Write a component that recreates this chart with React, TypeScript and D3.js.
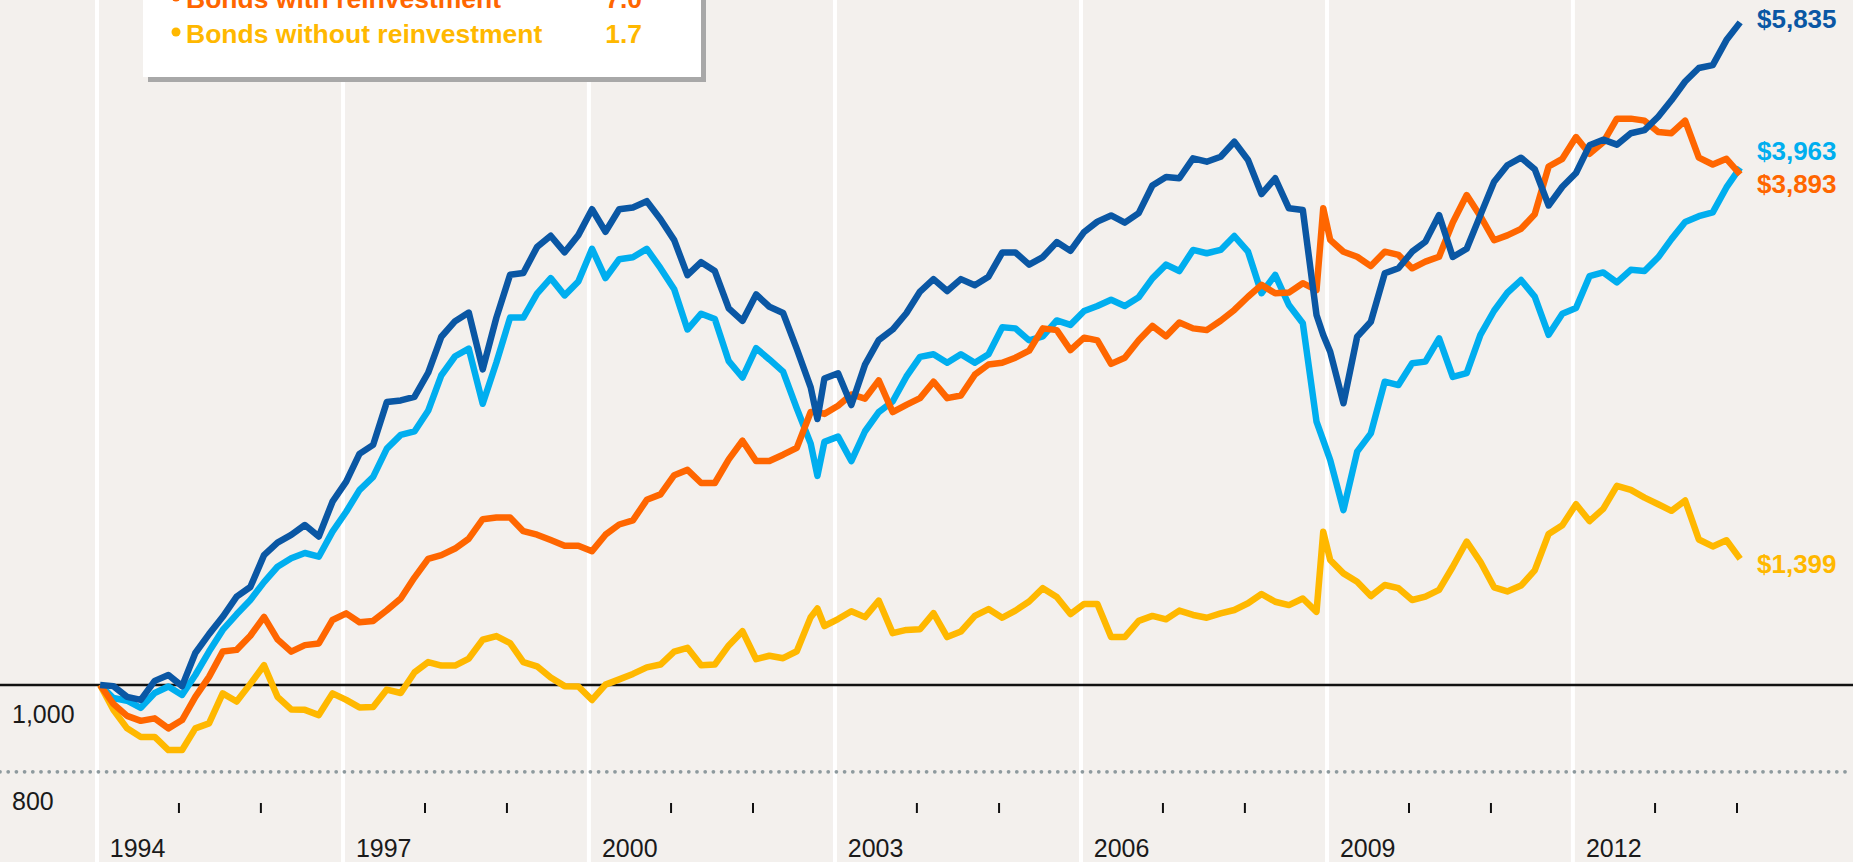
import * as d3 from 'd3';
import React from 'react';

const width = 1853;
const height = 862;

// bimonthly readings, plus Oct 2002 and Dec 2008 where the lines spike
const dates = [
  '1994-01', '1994-03', '1994-05', '1994-07', '1994-09', '1994-11',
  '1995-01', '1995-03', '1995-05', '1995-07', '1995-09', '1995-11',
  '1996-01', '1996-03', '1996-05', '1996-07', '1996-09', '1996-11',
  '1997-01', '1997-03', '1997-05', '1997-07', '1997-09', '1997-11',
  '1998-01', '1998-03', '1998-05', '1998-07', '1998-09', '1998-11',
  '1999-01', '1999-03', '1999-05', '1999-07', '1999-09', '1999-11',
  '2000-01', '2000-03', '2000-05', '2000-07', '2000-09', '2000-11',
  '2001-01', '2001-03', '2001-05', '2001-07', '2001-09', '2001-11',
  '2002-01', '2002-03', '2002-05', '2002-07', '2002-09', '2002-10', '2002-11',
  '2003-01', '2003-03', '2003-05', '2003-07', '2003-09', '2003-11',
  '2004-01', '2004-03', '2004-05', '2004-07', '2004-09', '2004-11',
  '2005-01', '2005-03', '2005-05', '2005-07', '2005-09', '2005-11',
  '2006-01', '2006-03', '2006-05', '2006-07', '2006-09', '2006-11',
  '2007-01', '2007-03', '2007-05', '2007-07', '2007-09', '2007-11',
  '2008-01', '2008-03', '2008-05', '2008-07', '2008-09', '2008-11', '2008-12',
  '2009-01', '2009-03', '2009-05', '2009-07', '2009-09', '2009-11',
  '2010-01', '2010-03', '2010-05', '2010-07', '2010-09', '2010-11',
  '2011-01', '2011-03', '2011-05', '2011-07', '2011-09', '2011-11',
  '2012-01', '2012-03', '2012-05', '2012-07', '2012-09', '2012-11',
  '2013-01', '2013-03', '2013-05', '2013-07', '2013-09', '2013-11',
  '2014-01',
];

const stocksWith = [
  1000, 997, 969, 961, 1011, 1027, 997, 1089, 1145, 1199, 1265, 1298,
  1413, 1461, 1491, 1531, 1485, 1629,
  1718, 1850, 1895, 2124, 2133, 2153,
  2296, 2527, 2634, 2695, 2317, 2659,
  2981, 2995, 3208, 3306, 3164, 3312,
  3548, 3342, 3548, 3565, 3625, 3455,
  3268, 2977, 3082, 3010, 2725, 2636,
  2828, 2737, 2692, 2447, 2208, 2030, 2261,
  2293, 2107, 2346, 2504, 2576, 2690,
  2850, 2946, 2854, 2946, 2899, 2965,
  3162, 3162, 3062, 3124, 3251, 3176,
  3340, 3433, 3490, 3424, 3512, 3780,
  3867, 3853, 4063, 4027, 4081, 4247,
  4045, 3695, 3853, 3557, 3541, 2678, 2539,
  2428, 2117, 2527, 2630, 2992, 3032,
  3169, 3254, 3494, 3125, 3194, 3493,
  3817, 3989, 4070, 3948, 3584, 3767,
  3908, 4206, 4270, 4214, 4344, 4380,
  4539, 4742, 4985, 5167, 5208, 5566,
  5835,
];

const stocksWithout = [
  1000, 966, 959, 941, 979, 996, 974, 1027, 1093, 1158, 1207, 1254,
  1315, 1370, 1401, 1421, 1407, 1504,
  1586, 1680, 1740, 1876, 1946, 1964,
  2075, 2281, 2399, 2448, 2114, 2360,
  2659, 2659, 2835, 2954, 2821, 2927,
  3193, 2954, 3106, 3122, 3193, 3033,
  2867, 2576, 2687, 2649, 2368, 2267,
  2451, 2379, 2303, 2088, 1901, 1745, 1910,
  1937, 1815, 1965, 2068, 2127, 2272,
  2395, 2412, 2358, 2412, 2358, 2412,
  2591, 2584, 2503, 2530, 2639, 2608,
  2706, 2743, 2789, 2743, 2807, 2952,
  3062, 3010, 3184, 3156, 3184, 3304,
  3169, 2837, 2979, 2750, 2619, 2016, 1918,
  1820, 1593, 1861, 1954, 2242, 2222,
  2355, 2365, 2516, 2271, 2294, 2540,
  2708, 2841, 2939, 2812, 2540, 2687,
  2728, 2969, 2999, 2920, 3020, 3010,
  3122, 3277, 3430, 3483, 3519, 3760,
  3963,
];

const bondsWith = [
  1000, 951, 921, 909, 915, 891, 911, 969, 1022, 1093, 1098, 1140,
  1199, 1129, 1093, 1112, 1117, 1189,
  1210, 1182, 1186, 1220, 1259, 1331,
  1399, 1413, 1438, 1476, 1555, 1562,
  1562, 1506, 1492, 1471, 1449, 1449,
  1428, 1492, 1533, 1550, 1637, 1661,
  1748, 1773, 1712, 1712, 1823, 1916,
  1815, 1815, 1846, 1880, 2068, 2068, 2058,
  2103, 2167, 2143, 2250, 2068, 2108,
  2146, 2242, 2146, 2161, 2284, 2347,
  2358, 2390, 2435, 2584, 2572, 2439,
  2521, 2503, 2351, 2390, 2503, 2601,
  2530, 2625, 2584, 2572, 2637, 2714,
  2811, 2901, 2837, 2842, 2914, 2861, 3557,
  3270, 3169, 3127, 3050, 3169, 3142,
  3032, 3086, 3127, 3425, 3685, 3483,
  3267, 3310, 3368, 3501, 3976, 4058,
  4300, 4113, 4240, 4516, 4516, 4492,
  4358, 4344, 4492, 4070, 3997, 4058,
  3893,
];

const bondsWithout = [
  1000, 936, 891, 871, 871, 841, 841, 891, 903, 978, 957, 1003,
  1054, 969, 937, 936, 923, 978,
  961, 942, 943, 988, 979, 1034,
  1063, 1053, 1053, 1073, 1128, 1139,
  1118, 1063, 1051, 1020, 997, 996,
  961, 1001, 1015, 1030, 1048, 1056,
  1093, 1104, 1054, 1056, 1111, 1154,
  1071, 1081, 1074, 1094, 1198, 1226, 1170,
  1192, 1217, 1198, 1252, 1148, 1158,
  1160, 1211, 1136, 1153, 1202, 1224,
  1196, 1219, 1249, 1294, 1264, 1208,
  1241, 1241, 1136, 1136, 1186, 1202,
  1191, 1219, 1205, 1196, 1210, 1221,
  1243, 1274, 1248, 1237, 1259, 1215, 1504,
  1395, 1346, 1316, 1267, 1305, 1294,
  1254, 1265, 1288, 1370, 1465, 1388,
  1297, 1283, 1303, 1357, 1495, 1530,
  1618, 1547, 1598, 1699, 1681, 1647,
  1618, 1590, 1634, 1473, 1446, 1470,
  1399,
];

const endLabels = ['$5,835', '$3,963', '$3,893', '$1,399'];
const legendLabels = ['Bonds with reinvestment', 'Bonds without reinvestment'];
const legendValues = ['7.0', '1.7'];
const gridYears = [1994, 1997, 2000, 2003, 2006, 2009, 2012];
const yLabels = [1000, 800];

const font = '"Liberation Sans", Arial, sans-serif';
const parseMonth = d3.timeParse('%Y-%m');

export default function App() {
  const x = d3
    .scaleTime()
    .domain([new Date(1994, 0, 1), new Date(2014, 0, 1)])
    .range([97, 1737]);
  const y = d3.scaleLog().domain([1000, 10000]).range([685, -180]);

  const when = dates.map((s) => d3.timeDay.offset(parseMonth(s) as Date, 14));

  // drawn bottom to top
  const series = [
    { values: bondsWithout, color: '#ffb800', label: endLabels[3], dy: 14 },
    { values: stocksWithout, color: '#00aeef', label: endLabels[1], dy: -8 },
    { values: bondsWith, color: '#ff6600', label: endLabels[2], dy: 19 },
    { values: stocksWith, color: '#0a57a4', label: endLabels[0], dy: 6 },
  ];

  const line = d3
    .line<number>()
    .x((d, i) => x(when[i]))
    .y((d) => y(d));

  const yearTicks = d3
    .range(1995, 2015)
    .filter((yr) => !gridYears.includes(yr));

  return (
    <svg
      width={width}
      height={height}
      style={{ position: 'absolute', left: 0, top: 0, display: 'block' }}
    >
      <rect width={width} height={height} fill="#f3f0ed" />

      {gridYears.map((yr) => (
        <line
          key={'g' + yr}
          x1={x(new Date(yr, 0, 1))}
          x2={x(new Date(yr, 0, 1))}
          y1={0}
          y2={height}
          stroke="#ffffff"
          strokeWidth={4}
        />
      ))}

      {/* 800 dotted, 1000 solid baseline */}
      <line
        x1={0}
        x2={width}
        y1={y(800) + 3}
        y2={y(800) + 3}
        stroke="#8e9a9e"
        strokeWidth={3.8}
        strokeDasharray="0 8.2"
        strokeLinecap="round"
      />
      <line x1={0} x2={width} y1={y(1000)} y2={y(1000)} stroke="#111" strokeWidth={2.5} />

      {yLabels.map((v) => (
        <text
          key={'yl' + v}
          x={12}
          y={y(v) + (v === 1000 ? 38 : 41)}
          fontFamily={font}
          fontSize={25}
          fill="#1a1a1a"
        >
          {d3.format(',')(v)}
        </text>
      ))}

      {yearTicks.map((yr) => (
        <line
          key={'t' + yr}
          x1={x(new Date(yr, 0, 1))}
          x2={x(new Date(yr, 0, 1))}
          y1={803}
          y2={813}
          stroke="#111"
          strokeWidth={2}
        />
      ))}

      {gridYears.map((yr) => (
        <text
          key={'yr' + yr}
          x={x(new Date(yr, 6, 1))}
          y={857}
          textAnchor="middle"
          fontFamily={font}
          fontSize={25}
          fill="#1a1a1a"
        >
          {yr}
        </text>
      ))}

      {series.map((s, k) => (
        <path
          key={'s' + k}
          d={line(s.values) || ''}
          fill="none"
          stroke={s.color}
          strokeWidth={6.5}
          strokeLinejoin="round"
        />
      ))}

      {series.map((s, k) => (
        <text
          key={'e' + k}
          x={1757}
          y={y(s.values[s.values.length - 1]) + s.dy}
          fontFamily={font}
          fontWeight="bold"
          fontSize={26}
          fill={s.color}
        >
          {s.label}
        </text>
      ))}

      {/* legend box, top part runs off the picture */}
      <g>
        <rect x={148} y={-60} width={558} height={142} fill="#a8a8a8" />
        <rect x={143} y={-65} width={558} height={142} fill="#ffffff" />
        {legendLabels.map((lab, k) => {
          const c = k === 0 ? '#ff6600' : '#ffb800';
          const base = 8 + k * 35;
          return (
            <g key={'lg' + k}>
              <circle cx={176} cy={base - 11} r={4.5} fill={c} />
              <text x={186} y={base} fontFamily={font} fontWeight="bold" fontSize={26.5} fill={c}>
                {lab}
              </text>
              <text
                x={642}
                y={base}
                textAnchor="end"
                fontFamily={font}
                fontWeight="bold"
                fontSize={26.5}
                fill={c}
              >
                {legendValues[k]}
              </text>
            </g>
          );
        })}
      </g>
    </svg>
  );
}
